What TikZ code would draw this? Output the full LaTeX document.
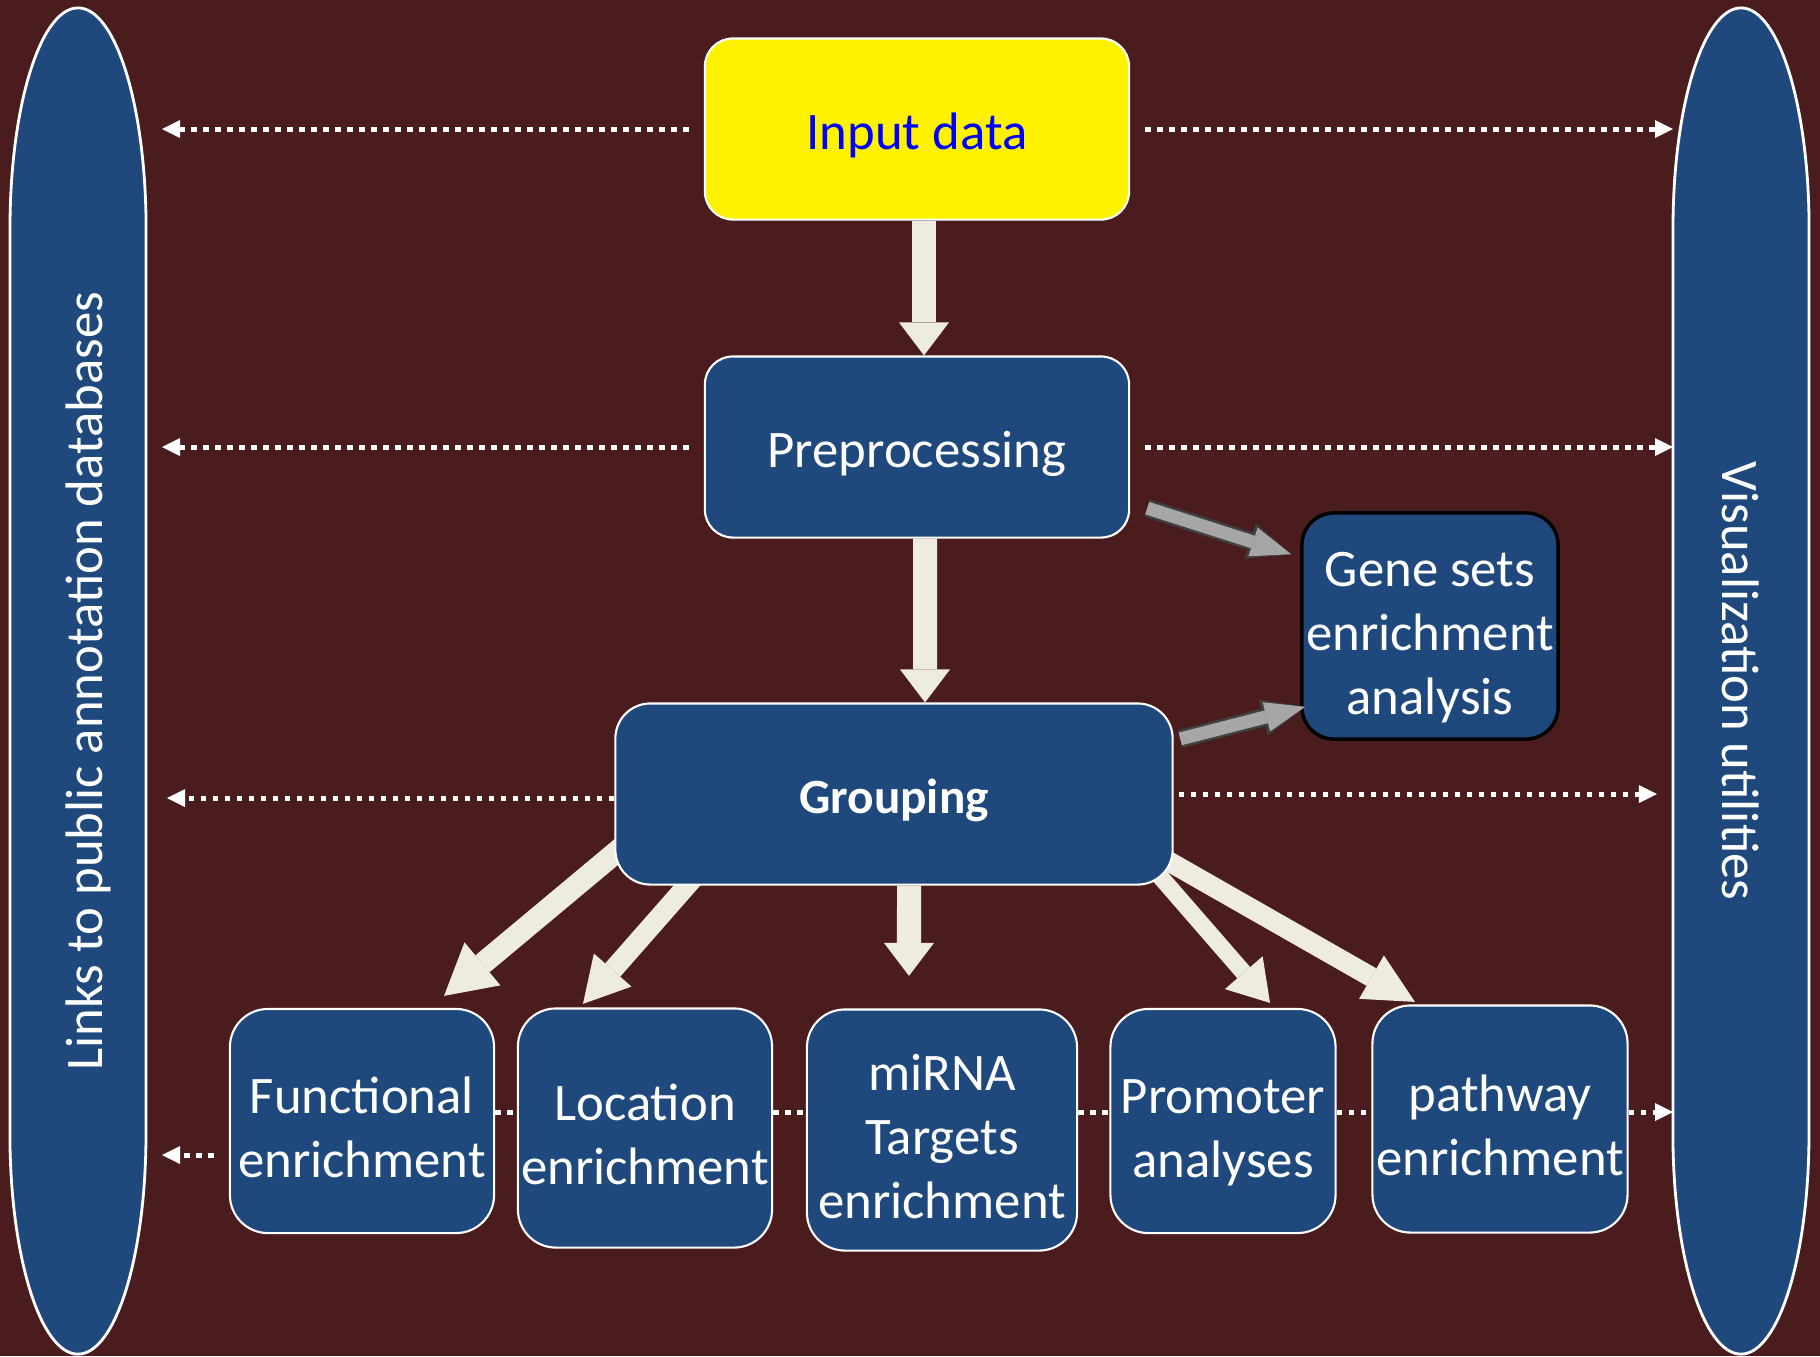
\documentclass[tikz,border=0pt]{standalone}
\usepackage{fontspec}
\setmainfont{Carlito}
\usetikzlibrary{arrows.meta}

\definecolor{bgred}{RGB}{74,28,30}
\definecolor{boxblue}{RGB}{31,73,125}
\definecolor{arrowfill}{RGB}{238,236,225}
\definecolor{arrowgray}{RGB}{166,166,166}

\newcommand\boxfont{\fontsize{15}{18.3}\selectfont}
% struts so the lines sit a bit low in their boxes
\newcommand\upstrut{\rule{0pt}{1.2em}}
\newcommand\lowstrut{\rule[-0.27em]{0pt}{0.27em}}
\newcommand\onestrut{\rule{0pt}{0.95em}}

\pgfdeclarelayer{canvas}
\pgfdeclarelayer{behind}
\pgfsetlayers{canvas,behind,main}

\tikzset{
	box/.style={draw=white, line width=0.6pt, fill=boxblue, text=white, align=center, inner sep=0pt, font=\boxfont, rounded corners=#1},
	box/.default=0.38cm,
	sidebar/.style={draw=white, line width=0.8pt, fill=boxblue},
	sidetext/.style={text=white, inner sep=0pt, font=\boxfont},
	flow/.style={draw=arrowfill, line width=0.22cm, -{Triangle[length=#1, width=0.5cm, line width=0pt]}},
	flow/.default=0.45cm,
	sidearrow/.style={draw=arrowgray, line width=0.13cm, -{Triangle[length=0.4cm, width=0.3cm, line width=0pt]},
		preaction={draw=black!75, line width=0.18cm, -{Triangle[length=0.43cm, width=0.37cm, line width=0pt]}}},
	dotlink/.style={white, line width=0.05cm, dash pattern=on 0.055cm off 0.065cm},
	dotarrow/.style={dotlink, -{Triangle[length=0.18cm, width=0.18cm, line width=0pt]}}
}

\begin{document}
\begin{tikzpicture}[x=0.01cm, y=-0.01cm]
		\useasboundingbox (0,0) rectangle (1820,1356);
		\begin{pgfonlayer}{canvas}
			\fill[bgred] (0,0) rectangle (1820,1356);
		\end{pgfonlayer}
		
		% side bars: long capsules with elliptic ends
		\path[sidebar] (10,228) arc[start angle=180, end angle=0, x radius=0.68cm, y radius=2.2cm]
			-- (146,1134) arc[start angle=0, end angle=-180, x radius=0.68cm, y radius=2.2cm] -- cycle;
		\path[sidebar] (1673,228) arc[start angle=180, end angle=0, x radius=0.68cm, y radius=2.2cm]
			-- (1809,1134) arc[start angle=0, end angle=-180, x radius=0.68cm, y radius=2.2cm] -- cycle;
		\node[sidetext, rotate=90] (links) at (78,681) {\upstrut Links to public annotation databases\lowstrut};
		\node[sidetext, rotate=-90] (vis) at (1741,681) {Visualization utilities};
		\coordinate (linksedge) at (146,681);
		\coordinate (visedge) at (1673,681);
		
		% pipeline boxes
		\node[box=0.28cm, fill=yellow, text=blue, minimum width=4.24cm, minimum height=1.81cm] (input) at (917,129) {\onestrut Input data};
		\node[box=0.28cm, minimum width=4.24cm, minimum height=1.81cm] (prep) at (917,447) {\onestrut Preprocessing};
		\node[box=0.35cm, minimum width=5.57cm, minimum height=1.81cm, font=\fontsize{14}{17}\selectfont\bfseries] (group) at (894,794) {\onestrut Grouping};
		\node[box=0.32cm, draw=black, line width=1pt, minimum width=2.56cm, minimum height=2.26cm] (gene) at (1430,626) {\upstrut Gene sets\\enrichment\\analysis\lowstrut};
		
		\node[box, minimum width=2.64cm, minimum height=2.24cm] (func) at (362,1121) {\upstrut Functional\\enrichment\lowstrut};
		\node[box, minimum width=2.54cm, minimum height=2.39cm] (loc) at (645,1128) {\upstrut Location\\enrichment\lowstrut};
		\node[box, minimum width=2.70cm, minimum height=2.41cm] (mirna) at (942,1130) {\upstrut miRNA\\Targets\\enrichment\lowstrut};
		\node[box, minimum width=2.25cm, minimum height=2.24cm] (prom) at (1223,1121) {\upstrut Promoter\\analyses\lowstrut};
		\node[box, minimum width=2.55cm, minimum height=2.27cm] (path) at (1500,1119) {\upstrut pathway\\enrichment\lowstrut};
		
		% block arrows sit behind the boxes
		\begin{pgfonlayer}{behind}
			\draw[flow=0.33cm, line width=0.24cm] ([xshift=0.07cm]input.south) -- ([xshift=0.07cm]prep.north);
			\draw[flow=0.33cm, line width=0.24cm] ([xshift=0.08cm]prep.south) -- ([xshift=0.31cm]group.north);
			\draw[flow=0.33cm, line width=0.24cm] ([xshift=0.15cm]group.south) -- ([shift={(-0.33cm,0.325cm)}]mirna.north);
			\draw[flow=0.5cm, -{Triangle[length=0.5cm, width=0.56cm, line width=0pt]}] ([shift={(0.175cm,0.465cm)}]group.south west) -- ([shift={(0.82cm,0.12cm)}]func.north);
			\draw[flow, line width=0.2cm] ([shift={(0.835cm,0.125cm)}]group.south west) -- ([shift={(-0.62cm,0.035cm)}]loc.north);
			\draw[flow=0.4cm, line width=0.17cm] ([shift={(-0.165cm,0.125cm)}]group.south east) -- ([shift={(0.47cm,0.05cm)}]prom.north);
			\draw[flow=0.5cm, line width=0.2cm] ([shift={(-0.125cm,0.285cm)}]group.south east) -- ([shift={(-0.85cm,0.025cm)}]path.north);
		\end{pgfonlayer}
		
		% grey arrows into the gene set box
		\draw[sidearrow] ([shift={(0.17cm,0.305cm)}]prep.south east) -- ([shift={(-0.09cm,-0.43cm)}]gene.north west);
		\draw[sidearrow] ([shift={(0.065cm,-0.365cm)}]group.north east) -- ([shift={(0.05cm,0.34cm)}]gene.south west);
		
		% dotted links to the side bars
		\draw[dotarrow, shorten >=0.16cm] ([xshift=-0.15cm]input.west) -- (linksedge |- input.west);
		\draw[dotarrow] ([xshift=0.15cm]input.east) -- (visedge |- input.east);
		\draw[dotarrow, shorten >=0.16cm] ([xshift=-0.15cm]prep.west) -- (linksedge |- prep.west);
		\draw[dotarrow] ([xshift=0.15cm]prep.east) -- (visedge |- prep.east);
		\coordinate (groupleft) at ([yshift=-0.04cm]group.west);
		\draw[dotarrow, shorten >=0.21cm] (groupleft) -- (linksedge |- groupleft);
		\draw[dotarrow, shorten >=0.16cm] ([xshift=0.05cm]group.east) -- (visedge |- group.east);
		
		\coordinate (midrow) at (0,1112);
		\coordinate (lowleft) at (214,1155);
		\draw[dotarrow, shorten >=0.16cm] (lowleft) -- (linksedge |- lowleft);
		\draw[dotlink] (func.east |- midrow) -- (loc.west |- midrow);
		\draw[dotlink] (loc.east |- midrow) -- (mirna.west |- midrow);
		\draw[dotlink] (mirna.east |- midrow) -- (prom.west |- midrow);
		\draw[dotlink] (prom.east |- midrow) -- (path.west |- midrow);
		\draw[dotarrow] (path.east |- midrow) -- (visedge |- midrow);
\end{tikzpicture}
\end{document}
